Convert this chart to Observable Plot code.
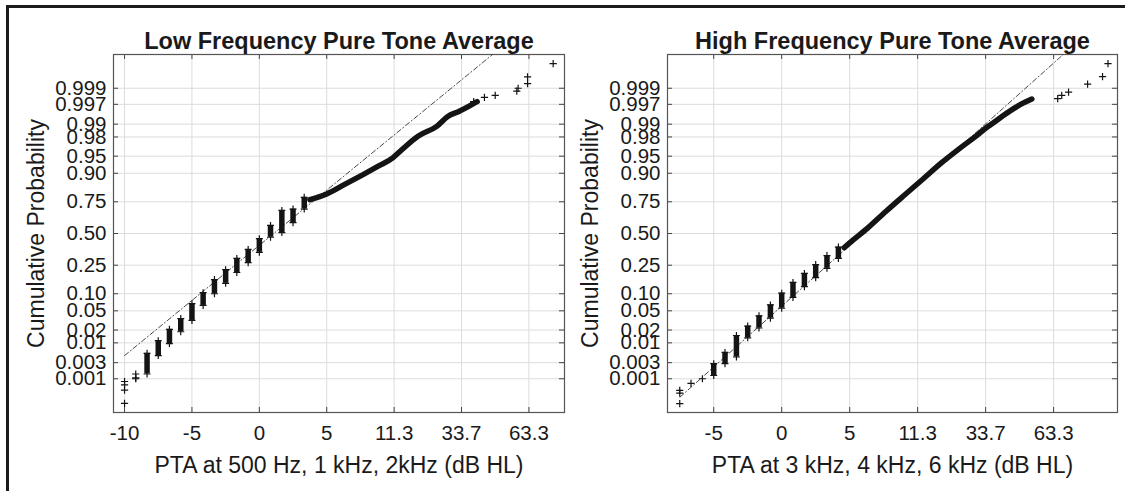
<!DOCTYPE html>
<html><head><meta charset="utf-8">
<script src="https://cdn.jsdelivr.net/npm/d3@7"></script>
<script src="https://cdn.jsdelivr.net/npm/@observablehq/plot@0.6"></script>
<style>
body{margin:0;background:#fff;}
#wrap{position:relative;width:1125px;height:491px;overflow:hidden;background:#fff;}
#border{position:absolute;left:6px;top:5px;width:1200px;height:600px;border-top:3px solid #1c1c1c;border-left:3px solid #1c1c1c;}
.panel{position:absolute;top:0;}
</style></head>
<body><div id="wrap"><div id="border"></div></div>
<script>
// ---------- data ----------
const titles = ["Low Frequency Pure Tone Average", "High Frequency Pure Tone Average"];
const xLabels = ["PTA at 500 Hz, 1 kHz, 2kHz (dB HL)", "PTA at 3 kHz, 4 kHz, 6 kHz (dB HL)"];
const yAxisLabel = "Cumulative Probability";
const xTickPos = [-10, -5, 0, 5, 10, 15, 20];
const xTickText = ["-10", "-5", "0", "5", "11.3", "33.7", "63.3"];
const yTicks = [0.001, 0.003, 0.01, 0.02, 0.05, 0.10, 0.25, 0.50, 0.75, 0.90, 0.95, 0.98, 0.99, 0.997, 0.999];
const yTickText = ["0.001", "0.003", "0.01", "0.02", "0.05", "0.10", "0.25", "0.50", "0.75", "0.90", "0.95", "0.98", "0.99", "0.997", "0.999"];
const yLimits = [0.00007, 0.99993];
const xLimitsLow = [-10.82, 22.64];
const xLimitsHigh = [-8.4, 24.7];

// Low-frequency panel: isolated points (x position, cumulative probability)
const lowTailX = [-10, -10, -10, -10, -9.17, -9.17, -9.17, 15.9, 16.7, 17.5, 19.1, 19.2, 19.9, 19.9, 21.8];
const lowTailP = [0.00082, 0.00064, 0.00043, 0.00015, 0.0014, 0.00107, 0.0010, 0.9975, 0.9981, 0.99836, 0.99878, 0.9990, 0.99929, 0.99957, 0.99985];
// Low-frequency panel: stacked columns of points
const lowColX  = [-8.33, -7.5, -6.67, -5.83, -5, -4.17, -3.33, -2.5, -1.67, -0.83, 0, 0.83, 1.67, 2.5, 3.33];
const lowColLo = [0.0014, 0.0047, 0.0096, 0.0183, 0.0322, 0.063, 0.100, 0.1446, 0.2033, 0.2676, 0.3446, 0.468, 0.508, 0.591, 0.698];
const lowColHi = [0.0054, 0.0113, 0.0207, 0.0351, 0.0681, 0.104, 0.1635, 0.2206, 0.298, 0.367, 0.4562, 0.568, 0.688, 0.698, 0.779];
// Low-frequency panel: dense run of points
const lowRunX = [3.75, 5.0, 6.37, 7.73, 8.82, 9.9, 10.45, 11.8, 13.16, 13.98, 14.8, 15.6, 16.16];
const lowRunP = [0.764, 0.80, 0.853, 0.896, 0.924, 0.946, 0.960, 0.981, 0.9887, 0.9936, 0.9953, 0.9967, 0.9975];
const lowRefX = [-10, 17.3];
const lowRefP = [0.0047, 0.99993];

// High-frequency panel
const highTailX = [-7.5, -7.5, -7.5, -6.67, -5.83, 20.3, 20.6, 21.1, 22.5, 23.6, 24.0];
const highTailP = [0.000147, 0.00034, 0.00042, 0.00071, 0.0010, 0.99795, 0.99836, 0.99869, 0.99926, 0.99958, 0.99985];
const highColX  = [-5, -4.17, -3.33, -2.5, -1.67, -0.83, 0, 0.83, 1.67, 2.5, 3.33, 4.17];
const highColLo = [0.00126, 0.0028, 0.0043, 0.0132, 0.0222, 0.0359, 0.0559, 0.0869, 0.129, 0.1736, 0.2296, 0.298];
const highColHi = [0.0028, 0.0057, 0.015, 0.0244, 0.040, 0.0643, 0.102, 0.149, 0.1977, 0.2546, 0.319, 0.386];
const highRunX = [4.6, 5.0, 6.34, 7.7, 9.04, 10.4, 11.7, 13.05, 14.1, 15.2, 15.6, 16.25, 17.3, 18.4];
const highRunP = [0.382, 0.4207, 0.5478, 0.6844, 0.7939, 0.877, 0.9319, 0.9641, 0.9788, 0.9887, 0.9909, 0.99379, 0.99653, 0.99788];
const highRefX = [-7.48, 20.71];
const highRefP = [0.00025, 0.99993];

// ---------- helpers ----------
function probit(p) {
  const a=[-3.969683028665376e+01,2.209460984245205e+02,-2.759285104469687e+02,1.383577518672690e+02,-3.066479806614716e+01,2.506628277459239e+00];
  const b=[-5.447609879822406e+01,1.615858368580409e+02,-1.556989798598866e+02,6.680131188771972e+01,-1.328068155288572e+01];
  const c=[-7.784894002430293e-03,-3.223964580411365e-01,-2.400758277161838e+00,-2.549732539343734e+00,4.374664141464968e+00,2.938163982698783e+00];
  const d=[7.784695709041462e-03,3.224671290700398e-01,2.445134137142996e+00,3.754408661907416e+00];
  const pl=0.02425, ph=1-pl; let q, r;
  if (p < pl) { q=Math.sqrt(-2*Math.log(p)); return (((((c[0]*q+c[1])*q+c[2])*q+c[3])*q+c[4])*q+c[5])/((((d[0]*q+d[1])*q+d[2])*q+d[3])*q+1); }
  if (p <= ph) { q=p-0.5; r=q*q; return (((((a[0]*r+a[1])*r+a[2])*r+a[3])*r+a[4])*r+a[5])*q/(((((b[0]*r+b[1])*r+b[2])*r+b[3])*r+b[4])*r+1); }
  q=Math.sqrt(-2*Math.log(1-p)); return -(((((c[0]*q+c[1])*q+c[2])*q+c[3])*q+c[4])*q+c[5])/((((d[0]*q+d[1])*q+d[2])*q+d[3])*q+1);
}
const plusSymbol = { draw(ctx, size) { const r = Math.sqrt(size / Math.PI); ctx.moveTo(-r, 0); ctx.lineTo(r, 0); ctx.moveTo(0, -r); ctx.lineTo(0, r); } };
const zip2 = (xs, ps) => xs.map((x, i) => ({x, p: ps[i]}));
const cols = (xs, lo, hi) => xs.map((x, i) => ({x, lo: lo[i], hi: hi[i]}));

const FONT = "'Liberation Sans', Arial, Helvetica, sans-serif";
const INK = "#141414";

function panel(opt) {
  const [x0, x1] = opt.xDomain;
  const yDom = yLimits.map(probit);
  const tickLenX = (x1 - x0) / opt.innerW * 5;
  const tickLenY = (yDom[1] - yDom[0]) / opt.innerH * 5;
  const yTickZ = yTicks.map(probit);
  const yLab = new Map(yTickZ.map((z, i) => [z, yTickText[i]]));
  const xLab = new Map(xTickPos.map((v, i) => [v, xTickText[i]]));
  const xt = xTickPos.filter(v => v >= x0 && v <= x1);
  const tail = zip2(opt.tailX, opt.tailP);
  const colData = cols(opt.colX, opt.colLo, opt.colHi);
  const run = zip2(opt.runX, opt.runP);
  const ref = zip2(opt.refX, opt.refP);
  const Y = d => probit(d.p);
  return Plot.plot({
    width: opt.width, height: 491,
    marginLeft: opt.ml, marginRight: opt.mr, marginTop: 54, marginBottom: 79,
    style: {fontFamily: FONT, background: "transparent", color: "#1a1a1a", overflow: "visible"},
    x: {domain: opt.xDomain, axis: null},
    y: {domain: yDom, axis: null},
    marks: [
      Plot.ruleX(xt, {stroke: "#dcdcdc", strokeWidth: 1}),
      Plot.ruleY(yTickZ, {stroke: "#dcdcdc", strokeWidth: 1}),
      Plot.ruleX(xt, {y1: yDom[0], y2: yDom[0] + tickLenY, stroke: "#444"}),
      Plot.ruleX(xt, {y1: yDom[1] - tickLenY, y2: yDom[1], stroke: "#444"}),
      Plot.ruleY(yTickZ, {x1: x0, x2: x0 + tickLenX, stroke: "#444"}),
      Plot.ruleY(yTickZ, {x1: x1 - tickLenX, x2: x1, stroke: "#444"}),
      Plot.frame({stroke: "#555", strokeWidth: 1.2}),
      Plot.line(ref, {x: "x", y: Y, stroke: "#333", strokeWidth: 0.9, strokeDasharray: "5,2.5,1,2.5", clip: true}),
      Plot.ruleX(colData, {x: "x", y1: d => probit(d.lo), y2: d => probit(d.hi), stroke: INK, strokeWidth: 5.5}),
      Plot.dot(colData, {x: "x", y: d => probit(d.lo), symbol: plusSymbol, r: 3.5, stroke: INK, strokeWidth: 1.2}),
      Plot.dot(colData, {x: "x", y: d => probit(d.hi), symbol: plusSymbol, r: 3.5, stroke: INK, strokeWidth: 1.2}),
      Plot.line(run, {x: "x", y: Y, stroke: INK, strokeWidth: 5.5, strokeLinecap: "round", curve: "monotone-x"}),
      Plot.dot(tail, {x: "x", y: Y, symbol: plusSymbol, r: 3.6, stroke: INK, strokeWidth: 1.2}),
      Plot.axisX(xt, {anchor: "bottom", tickSize: 0, tickPadding: 13, tickFormat: d => xLab.get(d), fontSize: 20.5, label: null}),
      Plot.axisY(yTickZ, {anchor: "left", tickSize: 0, tickPadding: 7, tickFormat: d => yLab.get(d), fontSize: 20.5, label: null}),
      Plot.text([opt.title], {frameAnchor: "top", lineAnchor: "bottom", dy: -6, fontSize: 23.5, fontWeight: "bold"}),
      Plot.text([opt.xLabel], {frameAnchor: "bottom", lineAnchor: "bottom", dy: 60, fontSize: 23}),
      Plot.text([yAxisLabel], {frameAnchor: "left", textAnchor: "middle", rotate: -90, dx: -77, fontSize: 23})
    ]
  });
}

const left = panel({width: 570, ml: 113, mr: 6, innerW: 451, innerH: 358, xDomain: xLimitsLow,
  title: titles[0], xLabel: xLabels[0],
  tailX: lowTailX, tailP: lowTailP, colX: lowColX, colLo: lowColLo, colHi: lowColHi,
  runX: lowRunX, runP: lowRunP, refX: lowRefX, refP: lowRefP});
const right = panel({width: 565, ml: 107, mr: 8, innerW: 450, innerH: 358, xDomain: xLimitsHigh,
  title: titles[1], xLabel: xLabels[1],
  tailX: highTailX, tailP: highTailP, colX: highColX, colLo: highColLo, colHi: highColHi,
  runX: highRunX, runP: highRunP, refX: highRefX, refP: highRefP});
left.classList.add("panel"); left.style.left = "0px";
right.classList.add("panel"); right.style.left = "560px";
document.getElementById("wrap").append(left, right);
</script>
</body></html>
